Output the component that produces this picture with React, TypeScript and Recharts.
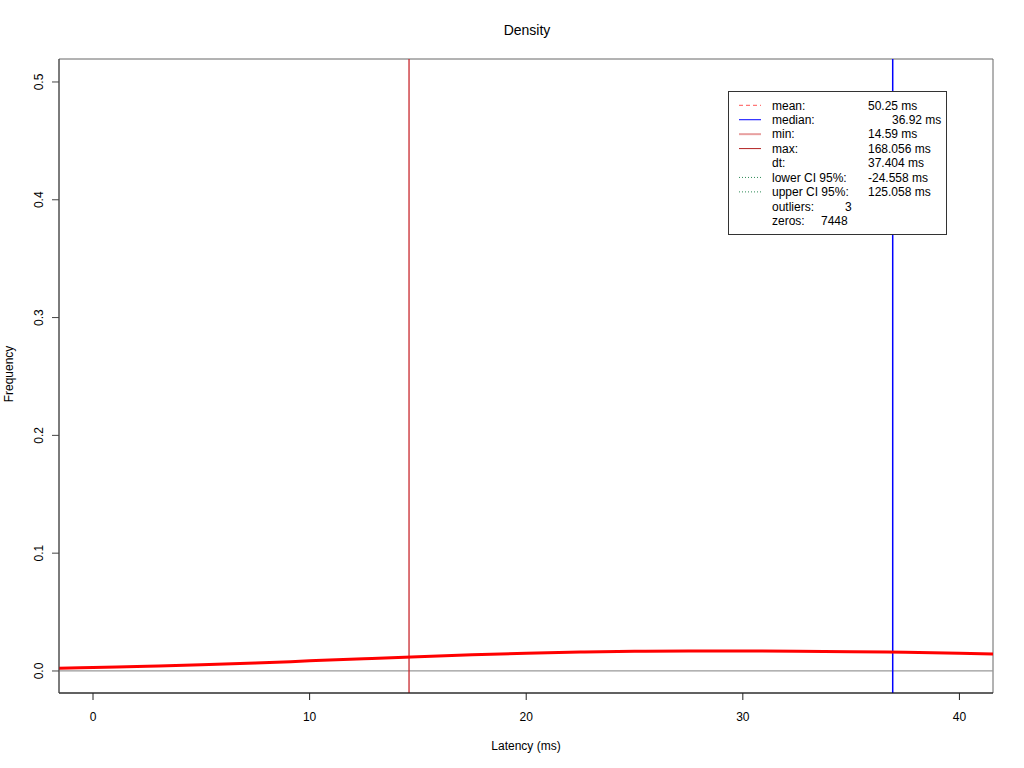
import React from 'react';
import {
  ComposedChart, Line, XAxis, YAxis, ReferenceLine, ReferenceArea, Customized, Legend,
} from 'recharts';

const xDomain: [number, number] = [-1.57, 41.55];
const yDomain: [number, number] = [-0.0187, 0.5195];
const xTicks = [0, 10, 20, 30, 40];
const yTicks = [0, 0.1, 0.2, 0.3, 0.4, 0.5];
const yTickLabels = ['0.0', '0.1', '0.2', '0.3', '0.4', '0.5'];

const latency = [-1.57, 0, 2.5, 5, 7.5, 10, 12.5, 15, 17.5, 20, 22.5, 25, 27.5, 30, 32.5, 35, 37.5, 40, 41.55];
const density = [0.0023, 0.003, 0.004, 0.0052, 0.0067, 0.0086, 0.0104, 0.0121, 0.0137, 0.015, 0.016, 0.0167, 0.017, 0.017, 0.0168, 0.0164, 0.0158, 0.0151, 0.0145];

const minValue = 14.59;
const medianValue = 36.92;

const legendLabels = ['mean:', 'median:', 'min:', 'max:', 'dt:', 'lower CI 95%:', 'upper CI 95%:', 'outliers:', 'zeros:'];
const legendValues = ['50.25 ms', '36.92 ms', '14.59 ms', '168.056 ms', '37.404 ms', '-24.558 ms', '125.058 ms', '3', '7448'];
const legendValueX = [868, 892, 868, 868, 868, 868, 868, 845, 821];
const legendLineColors = ['#ff5555', '#0000ff', '#e8a0a0', '#b22222', '', '#2e8b57', '#2e8b57', '', ''];
const legendLineDash = ['4 3', '', '', '', '', '1 2', '1 2', '', ''];
const legendLineWidth = [1, 1, 2, 1, 0, 1, 1, 0, 0];

const data = latency.map((x, i) => ({ x, y: density[i] }));

const FONT = 'Liberation Sans, Arial, Helvetica, sans-serif';

const LEG_X = 728;
const LEG_Y = 91;

const XTick = (props: any) => {
  const { x, payload } = props;
  return (
    <g>
      <line x1={x} x2={x} y1={693} y2={700} stroke="#222" />
      <text x={x} y={721} textAnchor="middle" fontSize={12} fontFamily={FONT} fill="#000">
        {payload.value}
      </text>
    </g>
  );
};

const YTick = (props: any) => {
  const { y, payload } = props;
  const lbl = yTickLabels[yTicks.indexOf(payload.value)] ?? String(payload.value);
  return (
    <g>
      <line x1={52} x2={59} y1={y} y2={y} stroke="#444" />
      <text
        x={43}
        y={y}
        textAnchor="middle"
        fontSize={12}
        fontFamily={FONT}
        fill="#000"
        transform={`rotate(-90, 43, ${y})`}
      >
        {lbl}
      </text>
    </g>
  );
};

const LegendBox = () => {
  const top = 105.3 - LEG_Y;
  const step = 14.43;
  return (
    <svg width={220} height={146} style={{ display: 'block' }}>
      <g fontFamily={FONT} fontSize={12}>
        <rect x={0.5} y={0.5} width={218} height={143} fill="#fff" stroke="#333" />
        {legendLabels.map((l, i) => {
          const cy = top + step * i;
          return (
            <g key={l}>
              {legendLineColors[i] && (
                <line
                  x1={739 - LEG_X}
                  x2={761 - LEG_X}
                  y1={cy}
                  y2={cy}
                  stroke={legendLineColors[i]}
                  strokeWidth={legendLineWidth[i]}
                  strokeDasharray={legendLineDash[i] || undefined}
                />
              )}
              <text x={772 - LEG_X} y={cy + 4.3} fill="#000">{l}</text>
              <text x={legendValueX[i] - LEG_X} y={cy + 4.3} fill="#000">{legendValues[i]}</text>
            </g>
          );
        })}
      </g>
    </svg>
  );
};

const Labels = () => (
  <g fontFamily={FONT} fill="#000">
    <text x={527} y={35} textAnchor="middle" fontSize={14}>Density</text>
    <text x={526} y={750} textAnchor="middle" fontSize={12}>Latency (ms)</text>
    <text x={13} y={374} textAnchor="middle" fontSize={12} transform="rotate(-90, 13, 374)">Frequency</text>
  </g>
);

export default function App() {
  return (
    <div style={{ position: 'absolute', left: 0, top: 0, background: '#fff' }}>
      <ComposedChart
        width={1024}
        height={768}
        data={data}
        margin={{ top: 59, right: 31, left: 0, bottom: 0 }}
      >
        <XAxis
          dataKey="x"
          type="number"
          domain={xDomain}
          ticks={xTicks}
          allowDataOverflow
          height={75}
          axisLine={{ stroke: '#111' }}
          tickLine={false}
          tick={<XTick />}
        />
        <YAxis
          type="number"
          domain={yDomain}
          ticks={yTicks}
          allowDataOverflow
          width={59}
          axisLine={{ stroke: '#444' }}
          tickLine={false}
          tick={<YTick />}
        />
        <ReferenceArea
          x1={xDomain[0]}
          x2={xDomain[1]}
          y1={yDomain[0]}
          y2={yDomain[1]}
          fill="none"
          stroke="#666"
          strokeWidth={1}
          ifOverflow="visible"
        />
        <ReferenceLine y={0} stroke="#999" strokeWidth={1.3} />
        <ReferenceLine x={minValue} stroke="#c8272d" strokeWidth={1.3} />
        <ReferenceLine x={medianValue} stroke="#0000ff" strokeWidth={1.5} />
        <Line
          dataKey="y"
          type="monotone"
          stroke="#ff0000"
          strokeWidth={3}
          dot={false}
          isAnimationActive={false}
          legendType="none"
        />
        <Legend
          layout="horizontal"
          verticalAlign="middle"
          align="center"
          content={() => <LegendBox />}
          wrapperStyle={{
            position: 'absolute',
            left: LEG_X,
            top: LEG_Y,
            width: 220,
            height: 146,
            margin: 0,
            padding: 0,
          }}
        />
        <Customized component={<Labels />} />
      </ComposedChart>
    </div>
  );
}
